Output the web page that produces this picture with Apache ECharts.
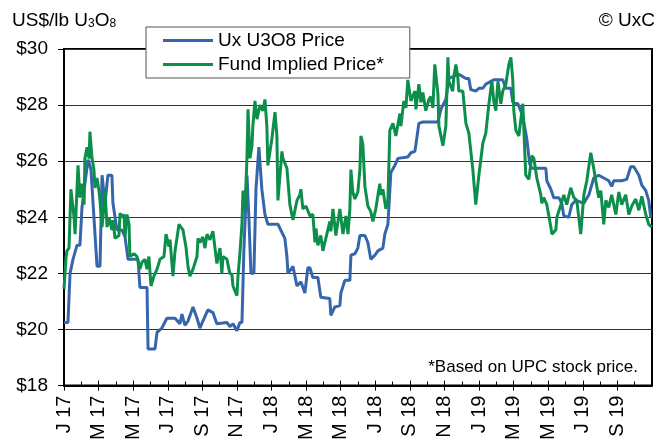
<!DOCTYPE html>
<html>
<head>
<meta charset="utf-8">
<script src="https://cdn.jsdelivr.net/npm/echarts@6/dist/echarts.min.js"></script>
<style>
  html, body { margin: 0; padding: 0; background: #fff; }
  #chart { width: 658px; height: 443px; }
</style>
</head>
<body>
<div id="chart"></div>
<script>
// x = months since 1 Jan 2017, y = US$/lb U3O8
const uxPrice = [
  [0, 20.25], [0.23, 20.25], [0.35, 22.0], [0.52, 22.5], [0.75, 23.0], [0.92, 23.0], [1.04, 24.35], [1.21, 25.2],
  [1.39, 26.05], [1.56, 25.7], [1.68, 24.5], [1.79, 24.5], [1.91, 22.25], [2.08, 22.25], [2.20, 25.5], [2.31, 25.5],
  [2.37, 24.5], [2.54, 25.5], [2.77, 25.5], [2.83, 24.5], [3.06, 23.55], [3.35, 23.55], [3.53, 23.3], [3.70, 22.5],
  [4.28, 22.5], [4.39, 21.5], [4.80, 21.5], [4.86, 19.3], [5.26, 19.3], [5.38, 19.9], [5.66, 20.05], [5.95, 20.4],
  [6.42, 20.4], [6.53, 20.45], [6.70, 20.2], [6.82, 20.55], [6.99, 20.15], [7.17, 20.3], [7.46, 20.8], [7.69, 20.4],
  [7.86, 20.05], [8.03, 20.3], [8.32, 20.7], [8.61, 20.6], [8.84, 20.2], [9.42, 20.25], [9.59, 20.1], [9.77, 20.2],
  [10.00, 19.95], [10.17, 20.25], [10.29, 20.25], [10.40, 22.8], [10.58, 25.5], [10.69, 24.0], [10.81, 22.0], [10.98, 22.0],
  [11.10, 25.0], [11.27, 26.5], [11.44, 25.0], [11.62, 24.1], [11.79, 23.75], [12.37, 23.75], [12.77, 23.25], [12.89, 22.6],
  [12.95, 22.0], [13.24, 22.25], [13.47, 21.55], [13.70, 21.7], [13.93, 21.3], [14.10, 22.2], [14.22, 22.2], [14.39, 21.85],
  [14.68, 21.85], [14.85, 21.15], [15.37, 21.1], [15.43, 20.5], [15.66, 20.8], [15.95, 20.85], [16.01, 21.3], [16.24, 21.75],
  [16.53, 21.75], [16.59, 22.65], [16.82, 22.7], [16.99, 22.9], [17.11, 23.35], [17.40, 23.35], [17.57, 23.1], [17.74, 22.5],
  [17.98, 22.65], [18.15, 22.8], [18.44, 22.9], [18.55, 23.4], [18.73, 23.75], [18.84, 23.8], [18.90, 25.6], [19.13, 25.85],
  [19.31, 26.1], [19.88, 26.15], [20.06, 26.3], [20.29, 26.35], [20.35, 26.6], [20.52, 27.35], [20.75, 27.4], [21.62, 27.4],
  [21.79, 27.85], [22.08, 28.2], [22.25, 28.95], [22.83, 29.1], [23.24, 28.95], [23.41, 28.95], [23.52, 28.55], [23.81, 28.5],
  [23.99, 28.6], [24.22, 28.6], [24.39, 28.75], [24.85, 28.9], [25.37, 28.9], [25.55, 28.6], [25.84, 28.6], [25.95, 28.1],
  [26.24, 28.05], [26.41, 27.8], [26.53, 27.6], [26.76, 26.8], [26.93, 25.9], [27.05, 25.75], [27.86, 25.75], [27.92, 25.3],
  [28.15, 25.0], [28.32, 24.7], [28.61, 24.7], [28.78, 24.5], [28.90, 24.05], [29.19, 24.0], [29.36, 24.45], [29.59, 24.6],
  [30.06, 24.5], [30.35, 24.8], [30.63, 25.4], [30.92, 25.5], [31.50, 25.3], [31.67, 25.1], [31.79, 25.3], [32.25, 25.3],
  [32.54, 25.35], [32.77, 25.8], [32.95, 25.8], [33.24, 25.5], [33.41, 25.15], [33.64, 24.95], [33.81, 24.6], [33.93, 24.0]
];

const fundImplied = [
  [0, 21.45], [0.12, 22.6], [0.17, 22.8], [0.29, 22.9], [0.40, 25.0], [0.58, 24.0], [0.64, 23.4], [0.81, 25.85],
  [0.92, 24.7], [1.04, 25.2], [1.16, 24.45], [1.21, 26.1], [1.33, 26.5], [1.45, 26.1], [1.50, 27.05], [1.62, 26.1],
  [1.73, 25.7], [1.79, 25.05], [1.91, 25.4], [2.02, 24.95], [2.08, 24.6], [2.20, 23.65], [2.31, 24.45], [2.37, 24.95],
  [2.49, 23.65], [2.60, 24.0], [2.77, 23.55], [2.83, 23.9], [2.95, 23.25], [3.18, 23.35], [3.24, 24.15], [3.35, 24.0],
  [3.47, 24.1], [3.53, 23.3], [3.64, 24.1], [3.76, 23.75], [3.81, 22.6], [4.05, 22.7], [4.22, 22.6], [4.39, 22.15],
  [4.51, 22.4], [4.68, 22.5], [4.80, 22.15], [4.91, 22.6], [5.03, 21.55], [5.20, 21.9], [5.38, 22.15], [5.55, 22.5],
  [5.78, 22.6], [5.90, 23.4], [6.07, 22.95], [6.13, 23.2], [6.30, 21.9], [6.42, 22.8], [6.65, 23.75], [6.76, 23.65],
  [6.88, 23.55], [7.05, 22.95], [7.17, 22.25], [7.28, 21.9], [7.46, 22.15], [7.69, 22.6], [7.75, 23.25], [7.86, 23.1],
  [8.03, 23.3], [8.15, 22.9], [8.27, 23.4], [8.44, 23.2], [8.61, 23.5], [8.84, 22.35], [9.02, 22.9], [9.13, 22.0],
  [9.19, 22.6], [9.42, 22.5], [9.59, 22.0], [9.71, 21.95], [9.77, 21.55], [10.00, 21.2], [10.06, 21.9], [10.17, 22.7],
  [10.29, 23.75], [10.35, 24.95], [10.46, 24.25], [10.58, 26.1], [10.64, 27.85], [10.75, 26.1], [10.87, 26.55], [10.92, 27.25],
  [11.04, 28.15], [11.16, 27.5], [11.33, 28.0], [11.50, 27.8], [11.62, 28.2], [11.73, 27.25], [11.79, 25.85], [12.02, 26.8],
  [12.20, 27.75], [12.31, 26.9], [12.37, 24.6], [12.60, 26.35], [12.66, 26.1], [12.89, 25.75], [13.06, 24.45], [13.24, 23.9],
  [13.47, 24.6], [13.64, 24.8], [13.70, 25.0], [13.81, 24.3], [13.99, 24.4], [14.22, 24.05], [14.39, 24.1], [14.51, 23.1],
  [14.57, 23.6], [14.68, 23.0], [14.85, 23.35], [14.97, 22.8], [15.14, 23.25], [15.37, 23.85], [15.43, 23.5], [15.55, 24.3],
  [15.72, 23.35], [15.95, 24.3], [16.13, 23.4], [16.30, 24.05], [16.42, 23.4], [16.53, 24.3], [16.59, 25.7], [16.70, 24.9],
  [16.82, 24.65], [16.99, 24.9], [17.11, 25.7], [17.17, 26.9], [17.28, 26.6], [17.40, 25.1], [17.57, 24.4], [17.74, 24.2],
  [17.86, 23.85], [18.03, 24.3], [18.26, 25.2], [18.32, 24.8], [18.44, 25.0], [18.61, 24.3], [18.73, 24.6], [18.84, 27.1],
  [19.02, 27.35], [19.19, 26.9], [19.42, 27.7], [19.48, 27.25], [19.65, 28.15], [19.77, 27.9], [19.88, 28.9], [20.06, 28.15],
  [20.29, 28.5], [20.35, 27.85], [20.52, 28.75], [20.64, 28.1], [20.75, 28.45], [20.92, 27.8], [21.10, 28.2], [21.21, 28.3],
  [21.33, 27.9], [21.44, 29.45], [21.62, 28.4], [21.68, 27.25], [21.91, 26.55], [22.08, 27.25], [22.20, 29.7], [22.25, 28.85],
  [22.48, 28.5], [22.54, 29.0], [22.66, 29.45], [22.77, 29.0], [22.83, 28.5], [23.06, 28.5], [23.24, 27.35], [23.41, 27.0],
  [23.64, 25.7], [23.81, 24.45], [23.99, 25.5], [24.22, 26.65], [24.39, 27.0], [24.57, 28.05], [24.74, 28.85], [24.85, 28.15],
  [24.97, 27.8], [25.09, 28.85], [25.26, 28.05], [25.37, 28.5], [25.55, 28.75], [25.72, 29.45], [25.84, 29.7], [25.95, 28.9],
  [26.01, 27.8], [26.13, 27.1], [26.30, 26.9], [26.53, 28.05], [26.70, 25.5], [26.88, 25.35], [27.05, 26.2], [27.17, 26.1],
  [27.34, 25.4], [27.57, 24.8], [27.63, 24.5], [27.74, 24.7], [27.92, 24.45], [28.15, 23.65], [28.21, 23.4], [28.44, 23.55],
  [28.50, 24.0], [28.73, 24.45], [28.90, 24.8], [29.07, 24.45], [29.30, 25.05], [29.48, 24.7], [29.65, 24.6], [29.88, 23.4],
  [30.06, 24.8], [30.23, 25.3], [30.46, 26.3], [30.63, 25.75], [30.75, 25.3], [30.92, 24.7], [31.04, 24.95], [31.21, 23.75],
  [31.33, 24.6], [31.50, 24.35], [31.67, 24.8], [31.91, 24.1], [32.08, 24.9], [32.25, 24.45], [32.48, 24.8], [32.66, 24.1],
  [32.83, 24.4], [33.06, 24.65], [33.24, 24.25], [33.41, 24.75], [33.64, 24.1], [33.81, 23.75], [33.99, 23.65]
];

const monthInitials = ['J', 'F', 'M', 'A', 'M', 'J', 'J', 'A', 'S', 'O', 'N', 'D'];
const seriesNames = ['Ux U3O8 Price', 'Fund Implied Price*'];

const FONT = '"Liberation Sans", Arial, sans-serif';

const chart = echarts.init(document.getElementById('chart'), null, { renderer: 'canvas' });

const monthLabel = (v) => {
  if (v > 32) return '';
  const m = Math.round(v);
  return monthInitials[m % 12] + ' ' + (17 + Math.floor(m / 12));
};

const option = {
  animation: false,
  backgroundColor: '#fff',
  grid: {
    left: 64, right: 6, top: 49, bottom: 51,
    show: true, borderColor: '#000', borderWidth: 2
  },
  legend: {
    orient: 'vertical',
    left: 146, top: 27,
    data: seriesNames,
    icon: 'rect',
    itemWidth: 50, itemHeight: 3, itemGap: 5,
    padding: [4, 26, 4, 17],
    backgroundColor: '#fff',
    borderColor: '#555', borderWidth: 1,
    textStyle: { fontFamily: FONT, fontSize: 19, color: '#000' }
  },
  xAxis: [
    {
      type: 'value', min: 0, max: 34, interval: 2,
      axisLine: { show: true, lineStyle: { color: '#000', width: 2 } },
      axisTick: { show: true, length: 5, lineStyle: { color: '#000', width: 1 } },
      axisLabel: {
        rotate: 90, margin: 10, showMaxLabel: false,
        fontFamily: FONT, fontSize: 20, color: '#000',
        formatter: monthLabel
      },
      splitLine: { show: false }
    },
    {
      type: 'value', min: 0, max: 34, interval: 2, position: 'bottom',
      axisLine: { show: false },
      axisTick: { show: true, inside: true, length: 5, lineStyle: { color: '#000', width: 1 } },
      minorTick: { show: true, splitNumber: 2, length: 4, lineStyle: { color: '#000', width: 1 } },
      axisLabel: { show: false },
      splitLine: { show: false }
    }
  ],
  yAxis: {
    type: 'value', min: 18, max: 30, interval: 2,
    axisLine: { show: true, lineStyle: { color: '#000', width: 2 } },
    axisTick: { show: true, length: 6, lineStyle: { color: '#000', width: 1 } },
    axisLabel: {
      margin: 16, fontFamily: FONT, fontSize: 19, color: '#000',
      formatter: (v) => '$' + v
    },
    splitLine: { show: true, lineStyle: { color: '#333', width: 1 } }
  },
  graphic: [
    {
      type: 'text', left: 12, top: 11,
      style: {
        text: '{a|US$/lb U}{s|3}{a|O}{s|8}',
        rich: {
          a: { fontFamily: FONT, fontSize: 19, fill: '#000', verticalAlign: 'bottom' },
          s: { fontFamily: FONT, fontSize: 12, fill: '#000', verticalAlign: 'bottom' }
        }
      }
    },
    {
      type: 'text', right: 3, top: 11,
      style: { text: '© UxC', fontFamily: FONT, fontSize: 19, fill: '#000' }
    },
    {
      type: 'text', right: 20, top: 359,
      style: { text: '*Based on UPC stock price.', fontFamily: FONT, fontSize: 17, fill: '#000' }
    }
  ],
  series: [
    {
      name: seriesNames[0], type: 'line', data: uxPrice,
      xAxisIndex: 0, symbol: 'none', z: 3,
      lineStyle: { color: '#3566AC', width: 3 },
      itemStyle: { color: '#3566AC' }
    },
    {
      name: seriesNames[1], type: 'line', data: fundImplied,
      xAxisIndex: 0, symbol: 'none', z: 4,
      lineStyle: { color: '#0B8F4A', width: 3 },
      itemStyle: { color: '#0B8F4A' }
    }
  ]
};

chart.setOption(option);
</script>
</body>
</html>
